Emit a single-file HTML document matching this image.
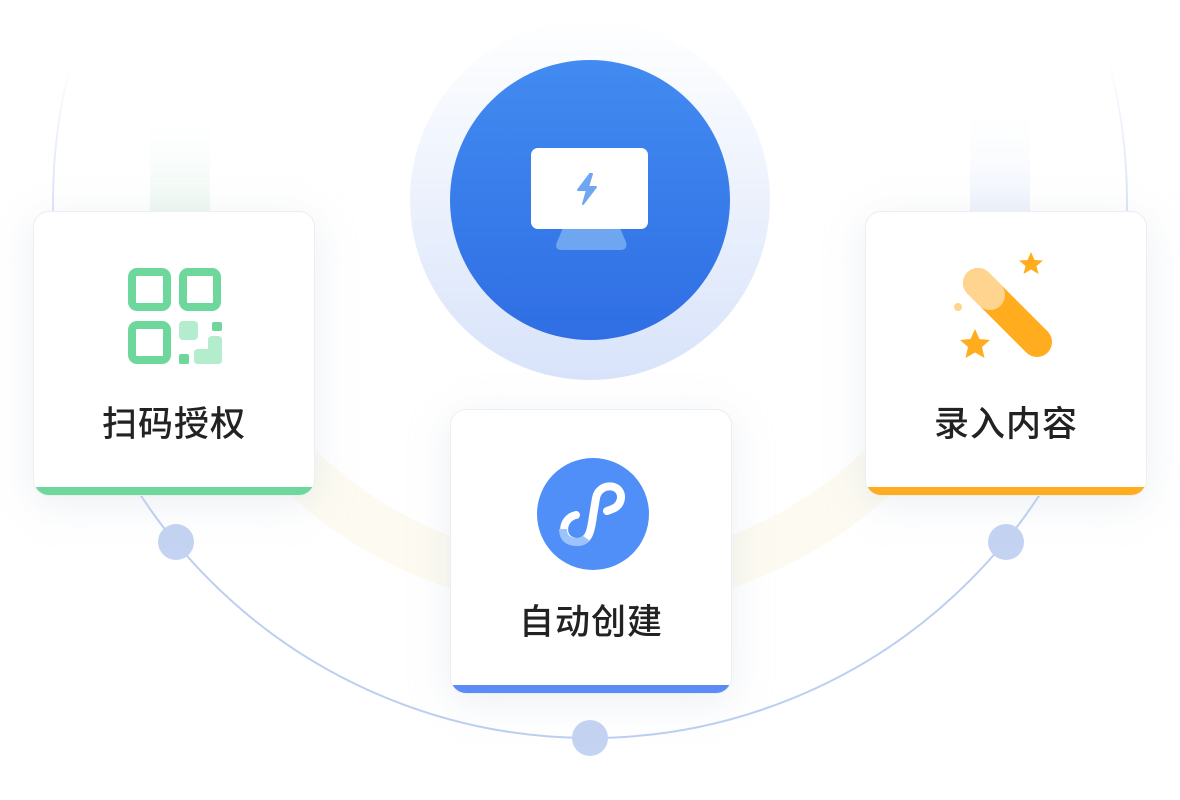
<!DOCTYPE html>
<html><head><meta charset="utf-8"><style>
html,body{margin:0;padding:0;background:#fff;}
body{width:1180px;height:800px;position:relative;overflow:hidden;font-family:"Liberation Sans","Noto Sans CJK SC",sans-serif;}
.card{position:absolute;width:282px;height:285px;background:#fff;border:1.5px solid #eceef2;border-radius:16px;box-sizing:border-box;overflow:hidden;box-shadow:0 8px 40px rgba(200,208,222,0.35);}
.card .bar{position:absolute;left:0;right:0;bottom:0;height:8px;}
.card .t{position:absolute;left:0;right:0;text-align:center;font-size:35px;color:#222;letter-spacing:1px;font-weight:500;}
</style></head><body>
<svg width="1180" height="800" style="position:absolute;left:0;top:0">
<defs>
<linearGradient id="halo" x1="0" y1="0" x2="0" y2="1"><stop offset="0" stop-color="#ffffff"/><stop offset="1" stop-color="#d8e3fa"/></linearGradient>
<linearGradient id="blue" x1="0" y1="0" x2="0" y2="1"><stop offset="0" stop-color="#428bf1"/><stop offset="1" stop-color="#2f6ee4"/></linearGradient>
<linearGradient id="gband" x1="0" y1="0" x2="0" y2="1"><stop offset="0" stop-color="#ffffff" stop-opacity="0"/><stop offset="1" stop-color="#eef8f2"/></linearGradient>
<linearGradient id="bband" x1="0" y1="0" x2="0" y2="1"><stop offset="0" stop-color="#ffffff" stop-opacity="0"/><stop offset="1" stop-color="#eef2fc"/></linearGradient>
<linearGradient id="arcg" gradientUnits="userSpaceOnUse" x1="0" y1="60" x2="0" y2="320"><stop offset="0" stop-color="#bccff0" stop-opacity="0"/><stop offset="1" stop-color="#bccff0" stop-opacity="1"/></linearGradient>
</defs>
<rect x="150" y="100" width="60" height="111" fill="url(#gband)"/>
<rect x="970" y="100" width="60" height="111" fill="url(#bband)"/>
<path d="M300,470 A420,420 0 0 0 880,470" fill="none" stroke="#fcfaee" stroke-width="50" opacity="0.8"/>
<circle cx="590" cy="201" r="537" fill="none" stroke="url(#arcg)" stroke-width="2"/>
<circle cx="176" cy="542" r="18" fill="#c3d3f1"/>
<circle cx="1006" cy="542" r="18" fill="#c3d3f1"/>
<circle cx="590" cy="738" r="18" fill="#c3d3f1"/>
<circle cx="590" cy="200" r="180" fill="url(#halo)"/>
<circle cx="590" cy="200" r="140" fill="url(#blue)"/>
<path d="M563,228 L620,228 L626,242 Q628,250 620,250 L562,250 Q554,250 557,242 Z" fill="#6fa6f2"/>
<rect x="531" y="148" width="117" height="81" rx="7" fill="#fff"/>
<path d="M590,174 L578,190 L587,190 L583,204 L596,187 L588,187 L592,174 Z" fill="#6fa6f2" stroke="#6fa6f2" stroke-width="2" stroke-linejoin="round"/>
</svg>

<div class="card" style="left:33px;top:211px;">
<svg width="282" height="285" style="position:absolute;left:0;top:0">
<g transform="translate(-33,-211)">
<rect x="131" y="271" width="35" height="35" rx="5" fill="none" stroke="#6ed89c" stroke-width="8"/>
<rect x="182" y="271" width="34" height="35" rx="5" fill="none" stroke="#6ed89c" stroke-width="8"/>
<rect x="131" y="324" width="35" height="35" rx="5" fill="none" stroke="#6ed89c" stroke-width="8"/>
<rect x="178" y="320" width="19" height="19" rx="4" fill="#b4ecce"/>
<rect x="211" y="321" width="10" height="9" rx="2" fill="#6ed89c"/>
<rect x="178" y="353" width="10" height="10" rx="2" fill="#6ed89c"/>
<path d="M211,335 L217,335 Q221,335 221,339 L221,359 Q221,363 217,363 L197,363 Q193,363 193,359 L193,352 Q193,348 197,348 L207,348 L207,339 Q207,335 211,335 Z" fill="#b4ecce"/>
</g></svg>
<div class="t" style="top:184px;">扫码授权</div>
<div class="bar" style="background:#6ed89c"></div>
</div>

<div class="card" style="left:450px;top:409px;">
<svg width="282" height="285" style="position:absolute;left:0;top:0">
<g transform="translate(-450,-409)">
<circle cx="592" cy="513" r="56" fill="#4f8ff7"/>
<path d="M575,514 C560,517 558,540 576,541 C588,541 590,530 592,515 L595,497 C598,481 621,482 620,497 C619,506 612,508 606,510" fill="none" stroke="#fff" stroke-width="8" stroke-linecap="round"/>
<path d="M562,528 C562,537 567,541 576,541 C580,541 583,540 585,537" fill="none" stroke="#9cc3fb" stroke-width="8"/>
</g></svg>
<div class="t" style="top:184px;">自动创建</div>
<div class="bar" style="background:#5b8cf5"></div>
</div>

<div class="card" style="left:865px;top:211px;">
<svg width="282" height="285" style="position:absolute;left:0;top:0">
<g transform="translate(-865,-211)">
<line x1="977" y1="282" x2="1036" y2="341" stroke="#ffad1f" stroke-width="30" stroke-linecap="round"/>
<line x1="977" y1="282" x2="989" y2="294" stroke="#ffd48e" stroke-width="30" stroke-linecap="round"/>
<polygon points="1030,251 1033.5,259 1042,259.5 1035.5,265 1037.5,273 1030,268.5 1022.5,273 1024.5,265 1018,259.5 1026.5,259" fill="#ffad1f"/>
<polygon points="974,328 978.5,338 989,339 981,346 983.5,357 974,351.5 964.5,357 967,346 959,339 969.5,338" fill="#ffad1f"/>
<circle cx="957" cy="306" r="4" fill="#ffd48e"/>
</g></svg>
<div class="t" style="top:184px;">录入内容</div>
<div class="bar" style="background:#ffad1f"></div>
</div>
</body></html>
